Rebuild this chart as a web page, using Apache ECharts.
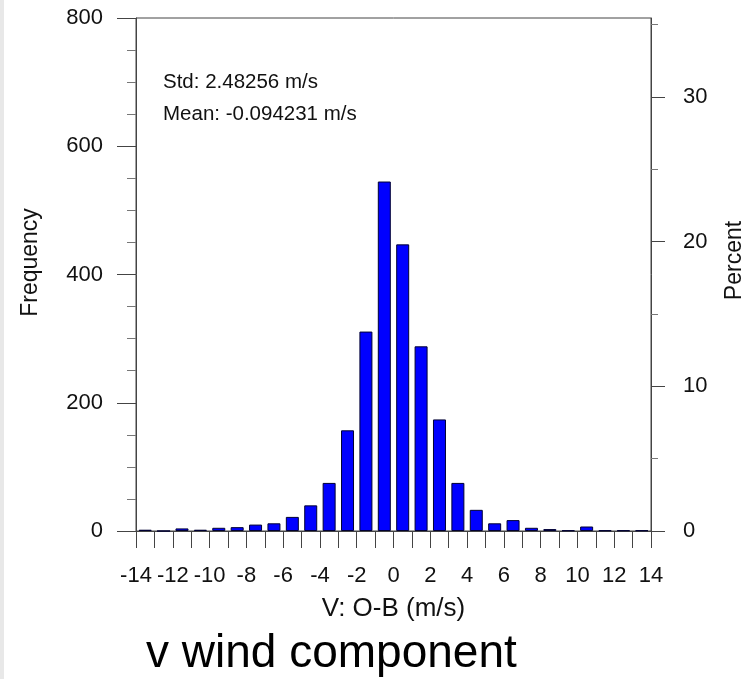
<!DOCTYPE html>
<html>
<head>
<meta charset="utf-8">
<script src="https://cdn.jsdelivr.net/npm/echarts@6/dist/echarts.min.js"></script>
<style>
  html, body { margin: 0; padding: 0; background: #fff; }
  #container { width: 754px; height: 679px; }
</style>
</head>
<body>
<div id="container"></div>
<script>
// bin centres (1 m/s bins from -14 to 14)
var binCenters = [-13.5, -12.5, -11.5, -10.5, -9.5, -8.5, -7.5, -6.5, -5.5, -4.5,
                  -3.5, -2.5, -1.5, -0.5, 0.5, 1.5, 2.5, 3.5, 4.5, 5.5,
                  6.5, 7.5, 8.5, 9.5, 10.5, 11.5, 12.5, 13.5];
// counts per bin
var counts = [2, 0, 4, 2, 5, 6, 10, 12, 22, 40,
              75, 157, 311, 545, 447, 288, 174, 75, 33, 12,
              17, 5, 3, 1, 7, 1, 1, 1];
var freqTicks = [0, 200, 400, 600, 800];
var pctTicks = [0, 10, 20, 30];
var pctMinor = [5, 15, 25, 35];
var stdText = 'Std: 2.48256 m/s';
var meanText = 'Mean: -0.094231 m/s';

var total = 0;
for (var i = 0; i < counts.length; i++) total += counts[i];
var pctMax = 800 / total * 100;

var barData = [];
for (var i = 0; i < binCenters.length; i++) {
    barData.push([binCenters[i], counts[i]]);
}

var font = 'Liberation Sans, Arial, Helvetica, sans-serif';
var axisColor = '#444';

var myChart = echarts.init(document.getElementById('container'));
var option = {
    backgroundColor: '#fff',
    animation: false,
    title: {
        text: 'v wind component',
        left: 141,
        top: 626,
        textStyle: { fontFamily: font, fontSize: 46, fontWeight: 'normal', color: '#000' }
    },
    graphic: [
        { type: 'rect', left: 0, top: 0, shape: { width: 4, height: 679 }, style: { fill: '#e8e8e8' } },
        { type: 'text', left: 163, top: 72, style: { text: stdText, fontFamily: font, fontSize: 20.5, fill: '#111' } },
        { type: 'text', left: 163, top: 104, style: { text: meanText, fontFamily: font, fontSize: 20.5, fill: '#111' } }
    ],
    grid: {
        left: 136, right: 102, top: 18, bottom: 148,
        show: true, borderColor: axisColor, borderWidth: 1, backgroundColor: '#fff'
    },
    xAxis: {
        type: 'value',
        min: -14, max: 14, interval: 1,
        name: 'V: O-B (m/s)',
        nameLocation: 'middle',
        nameGap: 65,
        nameTextStyle: { fontFamily: font, fontSize: 26, color: '#111' },
        splitLine: { show: false },
        axisLine: { onZero: false, lineStyle: { color: axisColor } },
        axisTick: { length: 17, lineStyle: { color: axisColor } },
        axisLabel: {
            margin: 34,
            fontFamily: font, fontSize: 22, color: '#111',
            formatter: function (v) { return v % 2 === 0 ? String(v) : ''; }
        }
    },
    yAxis: [{
        type: 'value',
        min: 0, max: 800, interval: 200,
        position: 'left',
        name: 'Frequency',
        nameLocation: 'middle',
        nameGap: 94,
        nameTextStyle: { fontFamily: font, fontSize: 23, color: '#111', padding: [0, 0, 0, 24] },
        splitLine: { show: false },
        axisLine: { show: true, onZero: false, lineStyle: { color: axisColor } },
        axisTick: { length: 19, lineStyle: { color: axisColor } },
        minorTick: { show: true, splitNumber: 4, length: 9, lineStyle: { color: '#777' } },
        axisLabel: {
            margin: 33, fontFamily: font, fontSize: 22, color: '#111',
            customValues: freqTicks
        }
    }, {
        type: 'value',
        min: 0, max: pctMax,
        position: 'right',
        name: 'Percent',
        nameLocation: 'middle',
        nameGap: 72,
        nameRotate: 90,
        nameTextStyle: { fontFamily: font, fontSize: 23, color: '#111', padding: [0, 0, 0, 28] },
        splitLine: { show: false },
        axisLine: { show: true, onZero: false, lineStyle: { color: axisColor } },
        axisTick: { length: 14, customValues: pctTicks, lineStyle: { color: axisColor } },
        axisLabel: {
            margin: 32, fontFamily: font, fontSize: 22, color: '#111',
            customValues: pctTicks
        }
    }, {
        type: 'value',
        min: 0, max: pctMax,
        position: 'right',
        splitLine: { show: false },
        axisLine: { show: false, onZero: false },
        axisTick: { length: 7, customValues: pctMinor, lineStyle: { color: '#777' } },
        axisLabel: { show: false }
    }],
    series: [{
        type: 'bar',
        xAxisIndex: 0,
        yAxisIndex: 0,
        barWidth: 13,
        data: barData,
        itemStyle: { color: '#0000ff', borderColor: '#000033', borderWidth: 1 }
    }]
};
myChart.setOption(option);
</script>
</body>
</html>
